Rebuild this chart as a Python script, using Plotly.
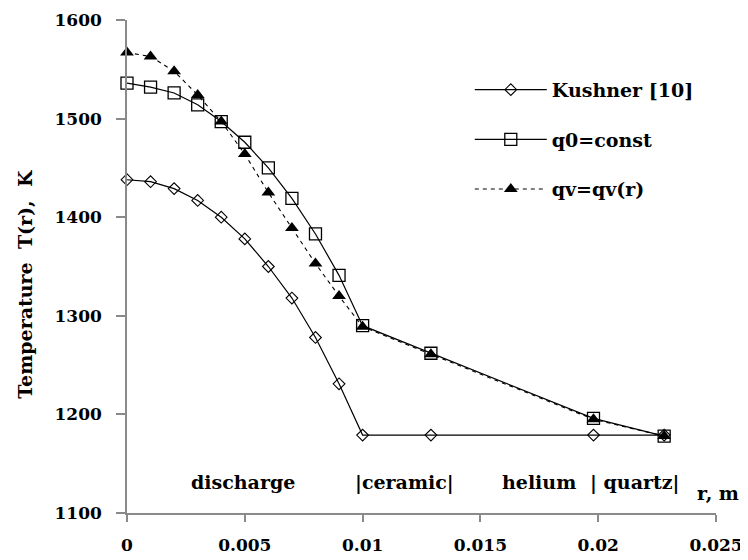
import plotly.graph_objects as go

r_m = [0, 0.001, 0.002, 0.003, 0.004, 0.005, 0.006, 0.007, 0.008, 0.009, 0.010, 0.0129, 0.0198, 0.0228]
kushner = [1438, 1436, 1429, 1417, 1400, 1378, 1350, 1318, 1278, 1231, 1179, 1179, 1179, 1179]
q0_const = [1536, 1532, 1526, 1514, 1497, 1476, 1450, 1419, 1383, 1341, 1290, 1262, 1196, 1178]
qv_r = [1567, 1563, 1548, 1524, 1497, 1464, 1425, 1389, 1353, 1320, 1289, 1261, 1195, 1178]

x_ticks = [0, 0.005, 0.01, 0.015, 0.02, 0.025]
x_tick_text = ["0", "0.005", "0.01", "0.015", "0.02", "0.025"]
y_ticks = [1100, 1200, 1300, 1400, 1500, 1600]

region_labels = ["discharge", "|ceramic|", "helium", "| quartz|"]
region_x = [0.00491, 0.01177, 0.01747, 0.02155]
region_y = 1131

FONT = "DejaVu Serif"
TF = dict(family=FONT, size=17, color="black")
AF = dict(family=FONT, size=19, color="black")

fig = go.Figure()
fig.add_trace(go.Scatter(
    x=r_m, y=kushner, name="<b>Kushner [10]</b>", mode="lines+markers",
    line=dict(color="black", width=1.2), cliponaxis=False,
    marker=dict(symbol="diamond-open", size=9, color="black", line=dict(width=1.1)),
    legendgroup="a"))
fig.add_trace(go.Scatter(
    x=r_m, y=q0_const, name="<b>q0=const</b>", mode="lines+markers",
    line=dict(color="black", width=1.2), cliponaxis=False,
    marker=dict(symbol="square-open", size=12, color="black", line=dict(width=1.3)),
    legendgroup="b"))
fig.add_trace(go.Scatter(
    x=r_m, y=qv_r, name="<b>qv=qv(r)</b>", mode="lines+markers",
    line=dict(color="black", width=1.1, dash="4px,4px"), cliponaxis=False,
    marker=dict(symbol="triangle-up", size=12, color="black"),
    legendgroup="c"))

annotations = []
for t, xv in zip(region_labels, region_x):
    annotations.append(dict(x=xv, y=region_y, xref="x", yref="y", text="<b>" + t + "</b>",
                            showarrow=False, font=AF))
annotations.append(dict(x=1.042, y=1120, xref="paper", yref="y", text="<b>r, m</b>",
                        showarrow=False, font=AF, xanchor="right"))
annotations.append(dict(x=-0.173, y=0.465, xref="paper", yref="paper",
                        xanchor="center", yanchor="middle",
                        text="<b>Temperature\u00a0 T(r),\u00a0 K</b>", textangle=-90,
                        showarrow=False, font=AF))

fig.update_layout(
    width=748, height=560,
    margin=dict(l=119, r=40, t=12, b=55),
    plot_bgcolor="white", paper_bgcolor="white",
    font=TF,
    showlegend=True,
    legend=dict(x=0.582, y=0.897, xanchor="left", yanchor="top",
                font=AF, bgcolor="rgba(0,0,0,0)", itemwidth=72,
                traceorder="grouped", tracegroupgap=22),
    annotations=annotations,
    xaxis=dict(range=[0, 0.025], tickvals=x_ticks, ticktext=["<b>%s</b>" % t for t in x_tick_text],
               tickfont=TF, ticklabeloverflow="allow",
               showgrid=False, zeroline=False, showline=True, linecolor="#8a8a8a", linewidth=1.5,
               ticks="outside", ticklen=7, tickcolor="#8a8a8a", tickwidth=1.5,
               ticklabelstandoff=9, automargin=False),
    yaxis=dict(range=[1100, 1600], tickvals=y_ticks, ticktext=["<b>%d</b>" % v for v in y_ticks],
               tickfont=TF, ticklabeloverflow="allow",
               showgrid=False, zeroline=False, showline=True, linecolor="#8a8a8a", linewidth=1.5,
               ticks="outside", ticklen=9, tickcolor="#8a8a8a", tickwidth=1.5,
               ticklabelstandoff=11, automargin=False),
)
fig.write_html("out.html")
